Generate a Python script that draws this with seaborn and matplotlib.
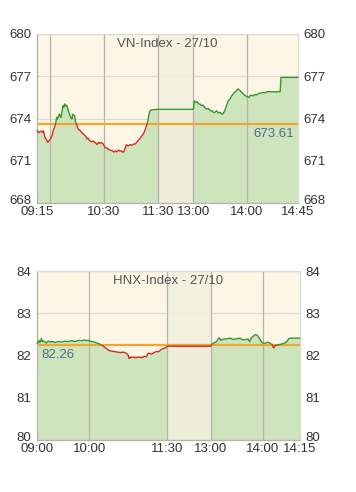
import numpy as np
import pandas as pd
import matplotlib
matplotlib.use("Agg")
import matplotlib.pyplot as plt
from matplotlib.patches import Rectangle
from matplotlib.transforms import ScaledTranslation
import seaborn as sns

# ---------------- data ----------------
vn_title = "VN-Index - 27/10"
vn_ref = 673.61
vn_times = ["09:15", "09:17", "09:19", "09:21", "09:22", "09:24", "09:26", "09:27", "09:29", "09:30",
            "09:32", "09:33", "09:35", "09:36", "09:37", "09:38", "09:40", "09:41", "09:42", "09:43",
            "09:44", "09:45", "09:46", "09:47", "09:48", "09:49", "09:50", "09:52", "09:53", "09:54",
            "09:55", "09:57", "09:58", "09:59", "10:01", "10:03", "10:05", "10:07", "10:09", "10:11",
            "10:12", "10:14", "10:16", "10:18", "10:20", "10:22", "10:24", "10:25", "10:27", "10:29",
            "10:31", "10:33", "10:35", "10:37", "10:39", "10:41", "10:43", "10:44", "10:46", "10:48",
            "10:49", "10:51", "10:52", "10:54", "10:55", "10:57", "10:59", "11:01", "11:03", "11:05",
            "11:07", "11:10", "11:12", "11:14", "11:16", "11:17", "11:19", "11:20", "11:21", "11:22",
            "11:30", "13:00", "13:01", "13:02", "13:04", "13:06", "13:08", "13:09", "13:11", "13:13",
            "13:15", "13:17", "13:19", "13:21", "13:22", "13:24", "13:26", "13:28", "13:30", "13:32",
            "13:33", "13:35", "13:37", "13:39", "13:41", "13:43", "13:45", "13:47", "13:48", "13:50",
            "13:52", "13:54", "13:56", "13:58", "14:00", "14:02", "14:04", "14:07", "14:09", "14:11",
            "14:13", "14:15", "14:18", "14:20", "14:22", "14:37", "14:38", "14:57"]
vn_values = [673.13, 673.00, 673.10, 673.02, 673.13, 672.65, 672.45, 672.30, 672.45, 672.55,
             672.80, 673.13, 673.45, 673.70, 674.08, 673.95, 674.32, 674.15, 674.08, 674.50,
             674.91, 674.80, 675.03, 674.90, 674.95, 674.79, 674.55, 674.20, 674.05, 673.95,
             674.30, 674.20, 673.80, 673.61, 673.25, 673.15, 673.01, 672.90, 672.78, 672.55,
             672.60, 672.42, 672.35, 672.40, 672.30, 672.15, 672.30, 672.23, 672.30, 672.19,
             671.95, 671.90, 671.80, 671.75, 671.71, 671.62, 671.70, 671.64, 671.75, 671.68,
             671.71, 671.60, 671.64, 671.95, 672.14, 672.05, 672.14, 672.10, 672.18, 672.19,
             672.35, 672.55, 672.75, 672.90, 673.20, 673.37, 673.80, 674.20, 674.50, 674.60,
             674.65, 674.65, 675.26, 675.14, 675.20, 675.03, 675.00, 674.91, 674.95, 674.75,
             674.67, 674.70, 674.55, 674.55, 674.45, 674.43, 674.55, 674.40, 674.43, 674.30,
             674.32, 674.55, 674.90, 675.26, 675.40, 675.62, 675.80, 675.90, 675.97, 676.09,
             676.00, 675.85, 675.75, 675.62, 675.55, 675.50, 675.65, 675.62, 675.70, 675.68,
             675.78, 675.80, 675.85, 675.82, 675.90, 675.90, 676.92, 676.92]
vn_yticks = [668, 671, 674, 677, 680]
vn_xtick_labels = ["09:15", "10:30", "11:30", "13:00", "14:00", "14:45"]
vn_grid_times = ["09:30", "10:30", "11:30", "13:00", "14:00"]

hnx_title = "HNX-Index - 27/10"
hnx_ref = 82.26
hnx_times = ["09:00", "09:01", "09:02", "09:03", "09:04", "09:05", "09:06", "09:07", "09:09", "09:11",
             "09:13", "09:15", "09:18", "09:21", "09:25", "09:28", "09:32", "09:36", "09:40", "09:44",
             "09:48", "09:52", "09:55", "09:57", "09:59", "10:01", "10:04", "10:07", "10:10", "10:13",
             "10:16", "10:18", "10:20", "10:22", "10:24", "10:27", "10:30", "10:33", "10:36", "10:39",
             "10:41", "10:43", "10:45", "10:46", "10:47", "10:50", "10:53", "10:57", "11:01", "11:04",
             "11:06", "11:08", "11:10", "11:12", "11:14", "11:17", "11:20", "11:23", "11:26", "11:28",
             "11:30", "13:00", "13:01", "13:03", "13:05", "13:07", "13:09", "13:10", "13:12", "13:13",
             "13:15", "13:17", "13:20", "13:23", "13:26", "13:28", "13:31", "13:34", "13:36", "13:38",
             "13:41", "13:43", "13:45", "13:47", "13:49", "13:51", "13:53", "13:55", "13:56", "13:58",
             "13:59", "14:01", "14:03", "14:05", "14:07", "14:09", "14:11", "14:12", "14:13", "14:15",
             "14:17", "14:20", "14:23", "14:25", "14:28", "14:30", "14:32", "14:43"]
hnx_values = [82.28, 82.29, 82.36, 82.31, 82.33, 82.40, 82.33, 82.35, 82.32, 82.30,
              82.34, 82.32, 82.33, 82.31, 82.33, 82.32, 82.34, 82.33, 82.35, 82.33,
              82.36, 82.35, 82.37, 82.35, 82.36, 82.34, 82.33, 82.31, 82.29, 82.26,
              82.23, 82.19, 82.17, 82.13, 82.11, 82.10, 82.09, 82.08, 82.07, 82.08,
              82.07, 82.05, 82.01, 81.93, 81.95, 81.96, 81.95, 81.96, 81.95, 81.98,
              81.97, 82.05, 82.05, 82.03, 82.06, 82.09, 82.09, 82.14, 82.17, 82.18,
              82.22, 82.22, 82.25, 82.29, 82.31, 82.33, 82.40, 82.42, 82.36, 82.37,
              82.39, 82.39, 82.40, 82.41, 82.38, 82.39, 82.40, 82.41, 82.38, 82.37,
              82.38, 82.39, 82.33, 82.42, 82.45, 82.49, 82.49, 82.45, 82.41, 82.34,
              82.31, 82.29, 82.29, 82.31, 82.31, 82.28, 82.26, 82.20, 82.18, 82.25,
              82.25, 82.26, 82.28, 82.29, 82.33, 82.40, 82.41, 82.41]
hnx_yticks = [80, 81, 82, 83, 84]
hnx_xtick_labels = ["09:00", "10:00", "11:30", "13:00", "14:00", "14:15"]
hnx_grid_times = ["10:00", "11:30", "13:00", "14:00"]

# ---------------- style ----------------
sns.set_theme(style="white")
plt.rcParams["font.family"] = ["Liberation Sans", "DejaVu Sans"]

BG = "#fdf6e6"
LUNCH = "#f3f0de"
FILL = "#cde4bd"
GREEN = "#2f9a2f"
RED = "#d42b1f"
ORANGE = "#f2a531"
VGRID = "#b5b3aa"
HGRID = "#dcdad2"
TXT = "#333333"
LBL = "#4f6d8c"


def to_min(t):
    h, m = t.split(":")
    return int(h) * 60 + int(m)


def make_mapper(open_t, lunch_start, lunch_end, lunch_width):
    o, ls, le = to_min(open_t), to_min(lunch_start), to_min(lunch_end)
    shift = (le - ls) - lunch_width

    def f(t):
        m = to_min(t)
        if ls < m < le:
            m = ls + (m - ls) * lunch_width / (le - ls)
            return m - o
        if m >= le:
            return m - o - shift
        return m - o
    return f


def draw(fig, ax, title, ref, times, values, yticks, xlabels, grid_times, mapper, ref_left):
    x = np.array([mapper(t) for t in times], dtype=float)
    y = np.array(values, dtype=float)
    df = pd.DataFrame({"x": x, "y": y})
    xmin, xmax = x[0], x[-1]
    ymin, ymax = yticks[0], yticks[-1]

    ax.set_facecolor(BG)
    ax.set_xlim(xmin, xmax)
    ax.set_ylim(ymin, ymax)

    for yt in yticks:
        ax.axhline(yt, color=HGRID, lw=0.9, zorder=0.5)

    ax.fill_between(x, y, ymin, color=FILL, lw=0, zorder=1)
    ax.axvspan(mapper("11:30"), mapper("13:00"), color=LUNCH, alpha=0.85, lw=0, zorder=1.5)

    for gt in grid_times:
        ax.axvline(mapper(gt), color=VGRID, lw=0.9, zorder=2)

    ax.axhline(ref, color=ORANGE, lw=1.6, zorder=2.5)

    # price line, green above reference, red below
    for col, lo, hi in [(GREEN, ref, ymax + 10), (RED, ymin - 10, ref)]:
        sns.lineplot(data=df, x="x", y="y", ax=ax, color=col, lw=1.0,
                     estimator=None, sort=False, zorder=3)
        line = ax.lines[-1]
        clip = Rectangle((xmin - 10, lo), (xmax - xmin) + 20, hi - lo, transform=ax.transData)
        line.set_clip_path(clip)

    ax.set_xlabel("")
    ax.set_ylabel("")
    tick_pos = [mapper(t) for t in xlabels[:-1]] + [xmax]
    ax.set_xticks(tick_pos)
    ax.set_xticklabels(xlabels)
    ax.set_yticks(yticks)
    ax.set_yticklabels([str(v) for v in yticks])
    ax.tick_params(axis="both", length=0, labelsize=9.5, colors=TXT)
    ax.tick_params(axis="y", labelright=True, pad=4)
    ax.tick_params(axis="x", pad=2.5)
    # lift the lowest y labels slightly, like the reference
    up = ScaledTranslation(0, 2.5 / 72, fig.dpi_scale_trans)
    for tk in ax.yaxis.get_major_ticks()[:1]:
        for lab in (tk.label1, tk.label2):
            lab.set_transform(lab.get_transform() + up)
    for sp in ax.spines.values():
        sp.set_color(VGRID)
        sp.set_linewidth(0.9)
    ax.spines["top"].set_color(HGRID)
    ax.spines["right"].set_color(HGRID)

    ax.text(0.5, 0.975, title, transform=ax.transAxes, ha="center", va="top",
            fontsize=9.5, color="#555555", zorder=5)
    if ref_left:
        ax.text(0.015, ref - (ymax - ymin) * 0.025, f"{ref:.2f}", transform=ax.get_yaxis_transform(),
                ha="left", va="top", fontsize=9.5, color=LBL, zorder=5)
    else:
        ax.text(0.985, ref - (ymax - ymin) * 0.025, f"{ref:.2f}", transform=ax.get_yaxis_transform(),
                ha="right", va="top", fontsize=9.5, color=LBL, zorder=5)


fig = plt.figure(figsize=(3.56, 4.92), dpi=100, facecolor="white")
ax1 = fig.add_axes([37 / 356, 1 - 203 / 492, 261 / 356, 169 / 492])
ax2 = fig.add_axes([37 / 356, 1 - 440 / 492, 263 / 356, 169 / 492])

vn_map = make_mapper("09:15", "11:30", "13:00", 40)
hnx_map = make_mapper("09:00", "11:30", "13:00", 50)

draw(fig, ax1, vn_title, vn_ref, vn_times, vn_values, vn_yticks, vn_xtick_labels, vn_grid_times, vn_map, False)
draw(fig, ax2, hnx_title, hnx_ref, hnx_times, hnx_values, hnx_yticks, hnx_xtick_labels, hnx_grid_times, hnx_map, True)

fig.savefig("out.png", dpi=100, facecolor="white")
